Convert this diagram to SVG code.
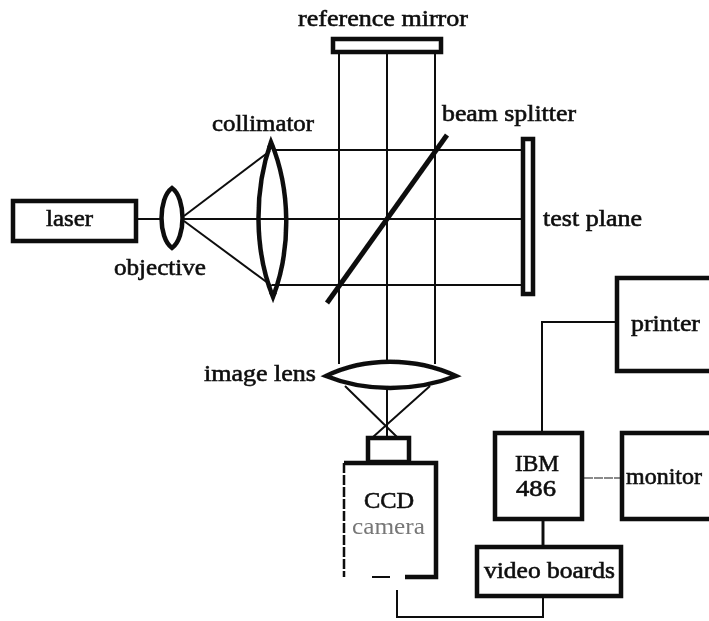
<svg xmlns="http://www.w3.org/2000/svg" width="709" height="621" viewBox="0 0 709 621">
<style>
text{font-family:"Liberation Serif","DejaVu Serif",serif;font-size:23px;fill:#111;stroke:#111;stroke-width:.6px}
.b{fill:none;stroke:#111;stroke-width:4.5px}
.l{fill:none;stroke:#111;stroke-width:2px}
.t{fill:none;stroke:#111;stroke-width:1.2px}
</style>
<defs><filter id="s" x="-5%" y="-5%" width="110%" height="110%"><feGaussianBlur stdDeviation="0.5"/></filter></defs>
<rect width="709" height="621" fill="#fff"/>
<g filter="url(#s)">
<g id="connectors">
<path class="l" d="M136 219H163M181 219H522M272 150H522M272 285H522"/>
<path class="l" d="M184 216L270 151M184 221L272 286"/>
<path class="l" d="M339 53V364M387 53V364M435 53V364"/>
<path class="l" d="M345 386L397 437M430 386L373 437M387 390V437"/>
<path class="l" d="M542 432V322H616"/>
<path class="t" d="M584 478H621" stroke-dasharray="9 1"/>
<path class="l" style="stroke-width:3px" d="M543 519V546"/>
<path class="l" d="M543 597V617H397V590"/>
</g>
<g id="laser"><rect class="b" x="13" y="201" width="123" height="40"/><text x="46" y="226" textLength="47" lengthAdjust="spacingAndGlyphs">laser</text></g>
<g id="objective"><path class="b" d="M172 188C158 198 158 238 172 248C186 238 186 198 172 188Z"/><text x="114" y="275" textLength="92" lengthAdjust="spacingAndGlyphs">objective</text></g>
<g id="collimator"><path class="b" d="M271 142C254 190 254 250 273 297C291 250 291 190 271 142Z"/><path fill="#111" d="M267 147L271 139L275 147ZM269 293L273 300L277 293Z"/><text x="212" y="131" textLength="102" lengthAdjust="spacingAndGlyphs">collimator</text></g>
<g id="reference-mirror"><rect class="b" x="333" y="39" width="108" height="13"/><text x="298" y="26" textLength="170" lengthAdjust="spacingAndGlyphs">reference mirror</text></g>
<g id="beam-splitter"><path class="b" style="stroke-width:5px" d="M327 303L447 135"/><text x="442" y="121" textLength="134" lengthAdjust="spacingAndGlyphs">beam splitter</text></g>
<g id="test-plane"><rect class="b" x="523" y="139" width="10" height="155"/><text x="543" y="226" textLength="99" lengthAdjust="spacingAndGlyphs">test plane</text></g>
<g id="image-lens"><path class="b" d="M326 376C365 357 415 357 456 376C415 392 365 392 326 376Z"/><text x="204" y="381" textLength="112" lengthAdjust="spacingAndGlyphs">image lens</text></g>
<g id="ccd-camera">
<rect class="b" x="368" y="438" width="41" height="24"/>
<path class="b" d="M405 577H436V463H344"/>
<path class="t" style="stroke-width:2.5px" d="M344 463V577" stroke-dasharray="10 2"/>
<path class="l" d="M372 577H390"/>
<text x="364" y="508" textLength="50" lengthAdjust="spacingAndGlyphs">CCD</text>
<text x="352" y="534" textLength="73" lengthAdjust="spacingAndGlyphs" style="fill:#777;stroke:none">camera</text>
</g>
<g id="printer"><rect class="b" x="617" y="278" width="100" height="93"/><text x="631" y="331" textLength="69" lengthAdjust="spacingAndGlyphs">printer</text></g>
<g id="ibm-486"><rect class="b" x="495" y="433" width="87" height="86"/><text x="515" y="471" textLength="44" lengthAdjust="spacingAndGlyphs">IBM</text><text x="516" y="496" textLength="40" lengthAdjust="spacingAndGlyphs">486</text></g>
<g id="monitor"><rect class="b" x="622" y="433" width="95" height="86"/><text x="626" y="484" textLength="76" lengthAdjust="spacingAndGlyphs">monitor</text></g>
<g id="video-boards"><rect class="b" x="477" y="547" width="144" height="49"/><text x="484" y="578" textLength="131" lengthAdjust="spacingAndGlyphs">video boards</text></g>
</g>
</svg>
